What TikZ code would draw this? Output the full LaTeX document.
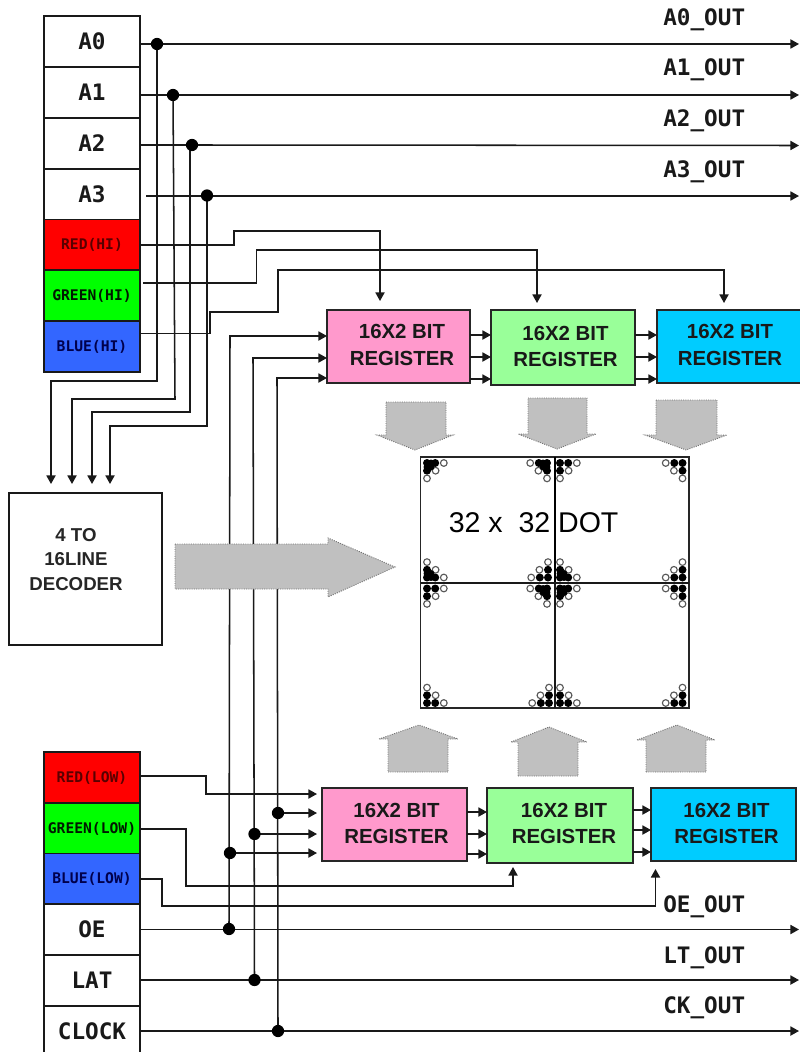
\documentclass[tikz,border=0pt]{standalone}
\usepackage{fontspec}
\setmainfont{Liberation Sans}
\newfontfamily\pix{DejaVu Sans Mono}[BoldFont={DejaVu Sans Mono Bold}]
\usetikzlibrary{arrows.meta}
\definecolor{cRed}{HTML}{FF0000}
\definecolor{cGreen}{HTML}{00FF00}
\definecolor{cBlue}{HTML}{3366FF}
\definecolor{cPink}{HTML}{FF99CC}
\definecolor{cLime}{HTML}{99FF99}
\definecolor{cCyan}{HTML}{00CCFF}
\definecolor{cGray}{HTML}{C0C0C0}
\tikzset{
  x=0.75pt,y=-0.75pt,
  wire/.style={line width=1.15pt,draw=black!90,line join=miter},
  arr/.style={wire,-{Triangle[length=6.4pt,width=6.8pt]}},
  cell/.style={draw=black!90,line width=1.15pt,minimum width=72pt,minimum height=38.1pt,inner sep=0pt,outer sep=0pt},
  big/.style={font=\pix\bfseries\fontsize{17}{20}\selectfont,text=black!90},
  small/.style={font=\pix\bfseries\fontsize{11}{13}\selectfont},
  regbox/.style={draw=black!85,line width=1.15pt,inner sep=0pt,outer sep=0pt},
  regtext/.style={font=\bfseries\fontsize{15.3}{19.8}\selectfont,align=center,text=black!90,inner sep=0pt},
  outlabel/.style={big,anchor=west,inner sep=0pt},
  blockarrow/.style={fill=cGray,draw=black!55,line width=0.7pt,densely dotted},
  junction/.style={fill=black}
}
\newcommand{\regb}[8]{% name x1 y1 x2 y2 colour tx ty
  \node[regbox,fill=#6,anchor=north west,minimum width={(#4-#2)*0.75pt},minimum height={(#5-#3)*0.75pt}] (#1) at (#2,#3) {};
  \node[regtext] (#1t) at (#7,#8) {16X2 BIT\\REGISTER};
}
\newcommand{\dotcorner}[4]{% x y sx sy  : dot 0,0 at x,y
  \fill (#1,#2) circle (3pt);
  \fill ({#1+#3*8.2},#2) circle (3pt);
  \fill (#1,{#2+#4*7.7}) circle (3pt);
  \draw[fill=white,draw=black!65,line width=0.85pt] ({#1+#3*16.8},#2) circle (2.5pt);
  \draw[fill=white,draw=black!65,line width=0.85pt] ({#1+#3*8.6},{#2+#4*7.7}) circle (2.5pt);
  \draw[fill=white,draw=black!65,line width=0.85pt] (#1,{#2+#4*15.4}) circle (2.5pt);
}
\newcommand{\denseA}[4]{% extra filled dots for dense corners
  \fill ({#1+#3*4},{#2+#4*4}) circle (2.6pt);
  \fill (#1,{#2+#4*4}) circle (2.6pt);
  \fill ({#1+#3*4},#2) circle (2.6pt);
}
\begin{document}
\begin{tikzpicture}
\useasboundingbox[fill=white] (0,0) rectangle (799,1052);

% ---- left columns
\node[cell,fill=white,big] (A0) at (92,41.5) {A0};
\node[cell,fill=white,big] (A1) at (92,92.5) {A1};
\node[cell,fill=white,big] (A2) at (92,143.5) {A2};
\node[cell,fill=white,big] (A3) at (92,194.5) {A3};
\node[cell,fill=cRed,small,text=red!35!black] (RH) at (92,245) {RED(HI)};
\node[cell,fill=cGreen,small,text=green!10!black] (GH) at (92,295.5) {GREEN(HI)};
\node[cell,fill=cBlue,small,text=blue!30!black] (BH) at (92,346.5) {BLUE(HI)};

\node[cell,fill=cRed,small,text=red!35!black] (RL) at (92,777.5) {RED(LOW)};
\node[cell,fill=cGreen,small,text=green!10!black] (GL) at (92,828.5) {GREEN(LOW)};
\node[cell,fill=cBlue,small,text=blue!30!black] (BL) at (92,879) {BLUE(LOW)};
\node[cell,fill=white,big] (OE) at (92,929.5) {OE};
\node[cell,fill=white,big] (LAT) at (92,980.5) {LAT};
\node[cell,fill=white,big] (CLK) at (92,1031.5) {CLOCK};

% ---- decoder
\node[draw=black!90,line width=1.15pt,anchor=north west,minimum width=114.75pt,minimum height=114pt,inner sep=0pt,outer sep=0pt] (DEC) at (9,493) {};
\node[font=\bfseries\fontsize{14}{18.4}\selectfont,align=center,text=black!85,inner sep=0pt] (DECt) at (76,559.5) {4 TO\\16LINE\\DECODER};

% ---- registers
\regb{P1}{327}{310}{470}{383}{cPink}{402}{345}
\regb{G1}{491}{310}{635}{385}{cLime}{565.5}{346.5}
\regb{C1}{657}{310}{803}{383}{cCyan}{730}{345}
\regb{P2}{322}{788}{467}{861}{cPink}{396.5}{823.5}
\regb{G2}{487}{788}{633}{863}{cLime}{564}{823.5}
\regb{C2}{651}{788}{796}{861}{cCyan}{726.5}{823.5}

% ---- named points
\coordinate (j0) at (157,44);  \coordinate (j1) at (173,95);
\coordinate (j2) at (192,145); \coordinate (j3) at (207,195.5);
\coordinate (o0) at (799,44);  \coordinate (o1) at (799,95);
\coordinate (o2) at (799,145.5); \coordinate (o3) at (799,196);
\coordinate (d0) at (51,484); \coordinate (d1) at (72,484);
\coordinate (d2) at (92,484); \coordinate (d3) at (110,484);
\coordinate (t1) at (380,301); \coordinate (t2) at (537,303); \coordinate (t3) at (724,303);
\coordinate (jOE) at (229,929); \coordinate (jLT) at (254.5,980); \coordinate (jCK) at (278,1031);
\coordinate (oOE) at (799,929.5); \coordinate (oLT) at (799,980); \coordinate (oCK) at (799,1031);
\coordinate (kOE) at (230,853); \coordinate (kLT) at (254.5,834); \coordinate (kCK) at (278,813);
\coordinate (uG) at (513,867); \coordinate (uC) at (655.5,869);

% ---- address lines
\draw[arr] (A0.east |- j0) -- (j0) -- (o0);
\draw[arr] (A1.east |- j1) -- (j1) -- (o1);
\draw[arr] (A2.east |- j2) -- (j2) -- (o2);
\draw[arr] (146,196) -- (o3);
\draw[arr] (j0) -- (157,381) -- (51,381) -- (d0);
\draw[arr] (j1) -- (175,399) -- (72,399) -- (d1);
\draw[arr] (190,145) -- (190,412) -- (92,412) -- (d2);
\draw[arr] (j3) -- (207,426) -- (110,426) -- (d3);

% ---- colour lines, upper
\draw[arr] (RH.east |- 0,245) -- (234,245) -- (234,231) -- (380,231) -- (t1);
\draw[arr] (143,283) -- (256.5,283) -- (256.5,250) -- (537,250) -- (t2);
\draw[arr] (BH.east |- 0,333.5) -- (210,333.5) -- (210,312) -- (278,312) -- (278,270) -- (724,270) -- (t3);

% ---- control verticals
\draw[arr] (jOE) -- (230,336) -- (P1.west |- 0,336);
\draw[arr] (jLT) -- (253,358) -- (P1.west |- 0,358);
\draw[arr] (jCK) -- (277,378) -- (P1.west |- 0,378);

% ---- control lines
\draw[arr] (OE.east |- oOE) -- (oOE);
\draw[arr] (LAT.east |- oLT) -- (oLT);
\draw[arr] (CLK.east |- oCK) -- (oCK);
\draw[arr] (kOE) -- (317,853);
\draw[arr] (kLT) -- (317,834);
\draw[arr] (kCK) -- (317,813);

% ---- colour lines, lower
\draw[arr] (RL.east |- 0,776) -- (206,776) -- (206,794) -- (317,794);
\draw[arr] (GL.east |- 0,829) -- (186,829) -- (186,886) -- (513,886) -- (uG);
\draw[arr] (BL.east |- 0,879) -- (162,879) -- (162,906) -- (655.5,906) -- (uC);

% ---- register chains
\foreach \y in {335,357,379} {
  \draw[arr] (P1.east |- 0,\y) -- (G1.west |- 0,\y);
  \draw[arr] (G1.east |- 0,\y) -- (C1.west |- 0,\y);
}
\foreach \y in {812,834,854} \draw[arr] (P2.east |- 0,\y) -- (G2.west |- 0,\y);
\foreach \y in {810,830,852} \draw[arr] (G2.east |- 0,\y) -- (C2.west |- 0,\y);

% ---- junction dots
\foreach \p in {j0,j1,j2,j3,jOE,jLT,jCK,kOE,kLT,kCK} \fill[junction] (\p) circle (4.6pt);

% ---- block arrows
\draw[blockarrow] (175,544) -- (328,544) -- (328,538) -- (395,567) -- (328,597) -- (328,589) -- (175,589) -- cycle;
\draw[blockarrow] (386,402) -- (446,402) -- (446,435) -- (453,435) -- (415,450) -- (377,435) -- (386,435) -- cycle;
\draw[blockarrow] (528,398) -- (587,398) -- (587,434) -- (596,434) -- (557,449) -- (518,434) -- (528,434) -- cycle;
\draw[blockarrow] (656,400) -- (717,400) -- (717,435) -- (727,435) -- (686,450) -- (645,435) -- (656,435) -- cycle;
\draw[blockarrow] (388,772) -- (448,772) -- (448,739) -- (458,739) -- (419,725) -- (379,739) -- (388,739) -- cycle;
\draw[blockarrow] (518,776) -- (578,776) -- (578,742) -- (587,742) -- (549,727) -- (511,742) -- (518,742) -- cycle;
\draw[blockarrow] (646,772) -- (706,772) -- (706,740) -- (715,740) -- (677,725) -- (637,740) -- (646,740) -- cycle;

% ---- dot matrix
\node[draw=black!85,line width=1.15pt,anchor=north west,minimum width=201.4pt,minimum height=188.25pt,inner sep=0pt,outer sep=0pt] (MAT) at (420.5,457) {};

\dotcorner{427}{463}{1}{1}   \dotcorner{547}{463}{-1}{1}
\dotcorner{560}{463}{1}{1}   \dotcorner{682.5}{463}{-1}{1}
\dotcorner{427}{577.5}{1}{-1} \dotcorner{548}{577.5}{-1}{-1}
\dotcorner{560}{577.5}{1}{-1} \dotcorner{682.5}{577.5}{-1}{-1}
\dotcorner{427}{588.5}{1}{1} \dotcorner{547}{588.5}{-1}{1}
\dotcorner{560}{588.5}{1}{1} \dotcorner{682.5}{588.5}{-1}{1}
\dotcorner{427}{703}{1}{-1}  \dotcorner{549}{703}{-1}{-1}
\dotcorner{560}{703}{1}{-1}  \dotcorner{682.5}{703}{-1}{-1}
\denseA{427}{463}{1}{1} \denseA{427}{577.5}{1}{-1} \denseA{560}{577.5}{1}{-1}
\denseA{560}{588.5}{1}{1} \denseA{547}{463}{-1}{1} \denseA{547}{588.5}{-1}{1}

\draw[line width=2.2pt,black] (555,457) -- (555,583);
\draw[wire] (555,583) -- (555,708);
\draw[wire] (420.5,583) -- (689,583);

\node[anchor=base west,inner sep=0pt,font=\fontsize{21.4}{24}\selectfont] (DOT) at (448.5,532.5) {32 x\ \ 32 DOT};

% ---- out labels
\node[outlabel] (L0) at (663,20) {A0\_OUT};
\node[outlabel] (L1) at (663,70) {A1\_OUT};
\node[outlabel] (L2) at (663,121) {A2\_OUT};
\node[outlabel] (L3) at (663,172) {A3\_OUT};
\node[outlabel] (L4) at (663,907) {OE\_OUT};
\node[outlabel] (L5) at (663,958) {LT\_OUT};
\node[outlabel] (L6) at (663,1008) {CK\_OUT};
\end{tikzpicture}
\end{document}
